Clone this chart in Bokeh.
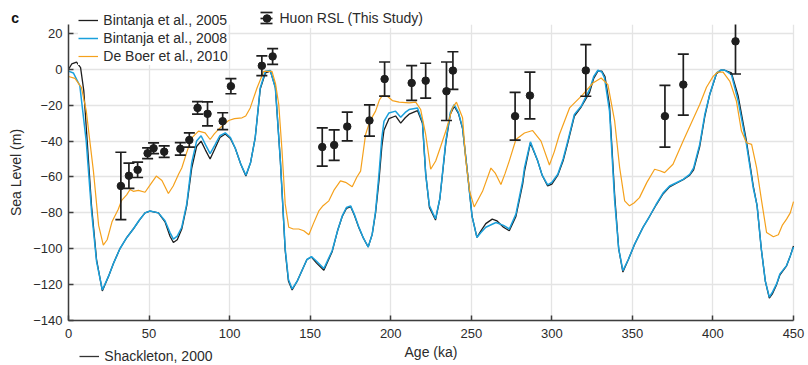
import math
from bokeh.plotting import figure
from bokeh.models import (Range1d, Legend, LegendItem, FixedTicker, ColumnDataSource, Label,
                          BoxAnnotation)
from bokeh.embed import file_html
from bokeh.resources import INLINE

# ---------------- data ----------------
x_ticks = [0, 50, 100, 150, 200, 250, 300, 350, 400, 450]
y_ticks = [-140, -120, -100, -80, -60, -40, -20, 0, 20]

# Bintanja et al., 2005 (black)
b05_age = [0, 2, 5, 7.5, 9.5, 11, 14.3, 17.4, 21, 25, 28, 31.9, 36, 40.2, 44, 47.5, 50.6, 55.8, 59.9, 63,
           65.1, 67.5, 70.3, 73.4, 76.5, 79.5, 82.3, 85, 87.9, 91, 94, 97.3, 100.5, 103.5, 107, 110.1, 113,
           115.9, 119, 122.2, 125.3, 128.4, 131.5, 134.5, 136.5, 138.8, 142, 145, 148, 150.8, 154, 158.5,
           163.7, 167, 169.9, 172.5, 175.1, 177.5, 180.3, 183, 186, 188.5, 190.6, 192.7, 194.5, 195.8,
           198.9, 203, 206.2, 209, 211.4, 216.6, 219.7, 221.7, 224, 227.8, 230.5, 234.2, 237, 239.4, 242,
           244.6, 247.7, 250.5, 253.5, 256, 259, 263, 266, 270, 273.6, 277.7, 281.9, 283, 286.7, 291.2,
           294, 297.4, 300, 303.7, 307, 309.9, 314, 318.2, 323.4, 326, 328.6, 331, 333, 335.8, 339, 341.5,
           344.1, 347.5, 351.4, 356.6, 360, 364.8, 369, 373.1, 377.3, 381.5, 385.6, 388, 391.8, 395, 398,
           402.2, 405, 407.3, 411.5, 415.7, 420.8, 425, 427.4, 430, 432.5, 435, 437, 439.5, 441.6, 445.7,
           448, 450]
b05_sl = [0, 3, 4, 1, -12, -32, -76, -106, -123.5, -115, -108, -100, -94, -89, -84, -80, -79, -80, -85, -93,
          -96.5, -95, -89, -76, -55, -43, -40, -45, -50, -44, -38, -36, -38.5, -44, -53, -59.5, -52,
          -38, -11, -2, -1, -10, -51, -101, -118, -123, -118, -112, -106, -104.6, -108, -112,
          -101.5, -90, -82, -77.5, -76.5, -81.5, -88.5, -94, -99, -92, -80, -62, -43, -34,
          -27.5, -26, -30, -27, -25, -23, -30, -58, -77, -84, -72, -41, -25, -20.5, -24.5,
          -33, -58, -82, -93.7, -90, -86, -83.5, -84.5, -88, -90, -82, -64, -57, -41, -51,
          -59, -65, -64, -59, -51, -41, -26, -21, -13, -5, -1, -1, -4, -20, -70, -100,
          -113, -106, -97.5, -88, -83, -75.5, -69.5, -65.5, -63.5, -61.5, -59, -56, -43, -26, -14,
          -2.5, -0.5, -0.5, -2, -15, -40, -65, -76, -100, -118, -127.5, -125, -120, -114.5, -109.5,
          -104, -98.5]

# Bintanja et al., 2008 (blue)
b08_age = [0, 3, 7, 11, 14.3, 17.4, 21, 25, 28, 31.9, 36, 40.2, 44, 47.5, 50.6, 55.8, 59.9, 63, 65.1, 67.5,
           70.3, 73.4, 76.5, 79.5, 82.3, 85, 87.9, 91, 94, 97.3, 100.5, 103.5, 107, 110.1, 113, 115.9, 119,
           122.2, 125.3, 128.4, 131.5, 134.5, 136.5, 138.8, 142, 145, 148, 150.8, 154, 158.5, 163.7, 167,
           169.9, 172.5, 175.1, 177.5, 180.3, 183, 186, 188.5, 190.6, 192.7, 194.5, 195.8, 198.9, 203,
           206.2, 209, 211.4, 216.6, 219.7, 221.7, 224, 227.8, 230.5, 234.2, 237, 239.4, 242, 244.6, 247.7,
           250.5, 253.5, 256, 259, 265.3, 270, 273.6, 277.7, 281.9, 283, 286.7, 291.2, 294, 297.4, 300,
           303.7, 307, 309.9, 314, 318.2, 323.4, 326, 328.6, 331, 332.7, 335.8, 339, 341.5, 344.1, 347.5,
           351.4, 356.6, 360, 364.8, 369, 373.1, 377.3, 381.5, 385.6, 388, 391.8, 395, 398, 402.2, 405,
           407.3, 411.5, 415.7, 420.8, 425, 427.4, 430, 432.5, 435, 437, 439.5, 441.6, 445.7, 448, 450]
b08_sl = [-1, -2, -9, -40, -79, -107, -123, -115, -108, -100, -94, -89, -84, -80, -79, -80, -84.4, -91, -94.6, -93,
          -88, -75, -52, -40, -37, -42, -47, -42, -37, -35.4, -38, -44, -53, -59, -52, -38, -10.4,
          -1.1, -0.6, -10.4, -51, -100, -117, -122.4, -118, -112, -106, -104.4, -107, -111, -101, -90,
          -81.7, -77, -76.1, -81, -88.1, -94, -99, -92, -79, -58.5, -38, -29, -24.3, -23.3,
          -26.7, -24, -22.4, -21.5, -29, -58.5, -76, -83.3, -72, -40, -24, -19.6, -24, -32.6, -58.5,
          -82, -93.7, -91, -88, -85.4, -87, -89, -80.7, -62.2, -55, -40.4, -51, -59, -64.4, -63,
          -58.5, -50, -40, -25.2, -20.6, -11.3, -4, -0.5, -1.5, -4.8, -23.3, -73.3, -100, -112.2, -106,
          -97.4, -88.1, -83, -75.2, -69, -65, -63.2, -61.3, -58.5, -55, -41.8, -25, -14, -2, -0.3,
          -0.5, -3, -17.8, -41.8, -66, -76, -100, -118, -127, -124, -119.6, -114, -109.4, -104, -99]

# De Boer et al., 2010 (orange)
db_age = [0, 4, 8, 11, 15.5, 18.7, 21.6, 24, 27, 30.9, 33, 36.1, 38.2, 40.2, 43.4, 47.5, 51, 54.5, 58, 62,
          65, 68.3, 70.3, 73.5, 76.5, 80.7, 84.8, 87.9, 90.5, 93.1, 96, 99.4, 103, 107.7, 110, 112.8, 117,
          121.2, 126.3, 128.5, 130.5, 132.5, 134.5, 136.7, 139.5, 142.9, 146, 149.2, 152, 155.4, 158,
          161.6, 165, 168.8, 172, 176.1, 179, 181.3, 184.4, 187, 190.6, 193, 194.8, 197.9, 201, 205.2,
          211.4, 215.5, 218.6, 221.7, 224.8, 227.9, 231, 234.2, 238.3, 240.8, 244.6, 246.5, 249, 251.8,
          257, 262.2, 265, 268.4, 271, 273.6, 277.7, 283, 288.1, 293.3, 298.5, 301.5, 304.7, 311, 319.2,
          325.5, 330.6, 334.8, 339, 342.1, 345.2, 348.2, 351, 354.4, 359, 363.8, 367, 370, 375.2, 381.5,
          386.5, 391.8, 396, 400.1, 403, 406.3, 410.5, 414.6, 417.7, 420.8, 424, 427.1, 430.2, 433.3,
          437.5, 440.6, 443, 445.7, 448, 450]
db_sl = [-4, -5, -10, -23, -57, -87, -98, -95, -85, -78, -73, -70, -67, -68, -67.5, -68.5, -64, -59.5, -62, -69.2,
         -65, -58.5, -55, -46, -38.2, -34.4, -35.4, -39.1, -36, -33.5, -31, -28.5, -27.5, -27, -26, -21.5, -10.4,
         -1.1, -1.1, -8, -19.6, -45, -75, -88, -89, -89, -90, -92.2, -86, -78.9, -76,
         -73.3, -67, -62.2, -63, -65.4, -60, -56.7, -36.3, -29, -23.3, -17, -14.6, -15, -17.4, -18.3,
         -18.7, -18.3, -22.4, -36.3, -55.7, -51.1, -43, -34.4, -21.5, -18.3, -27, -50, -68, -76.7,
         -68, -55, -58, -64.2, -58, -51, -39.1, -35.5, -34.1, -40, -53.3, -46, -36.3, -21.5, -14.1,
         -7.6, -4.8, -8.5, -28.9, -54.8, -73.3, -76.1, -74.5, -71.5, -63, -55.7, -56.5, -57.6, -52.9, -40,
         -30, -19.6, -10, -3.9, -1.5, -1.5, -6.7, -17.8, -34.4, -40.9, -41.8, -54.8, -73.3, -91,
         -93.3, -92.2, -87, -83.5, -80, -73.7]

# Shackleton, 2000: listed in the legend, but its curve cannot be told apart in the picture
sh_age = [float("nan")]
sh_sl = [float("nan")]

# Huon RSL (This Study)
huon_age = [32.5, 37.5, 42.9, 49.1, 52.8, 59.4, 69.4, 75.0, 80.1, 86.3, 95.7, 100.8, 120.0, 126.7, 157.5,
            164.9, 173.0, 186.8, 196.2, 213.0, 221.7, 234.6, 238.6, 277.2, 286.4, 321.1, 370.2, 381.6, 414.0]
huon_rsl = [-65, -59.3, -56, -46.8, -44, -45.9, -44.3, -39.4, -21.5, -24.8, -28.9, -9.4, 2, 7.2, -43.3,
            -42.2, -31.9, -28.5, -5.4, -7.6, -6.3, -12.2, -0.7, -26.1, -14.6, -0.6, -26.1, -8.5, 15.6]
huon_err = [18.8, 7, 4.3, 3, 3, 3.2, 3.5, 4, 3.5, 6.7, 4.7, 4.2, 5.5, 4.4, 10.7,
            8.5, 8, 8.7, 9.5, 9.7, 9.7, 16.3, 10.5, 13.3, 13, 14.4, 17.2, 17, 18.2]

X_LIM = (0, 450)
Y_LIM = (-140, 25)

# ---------------- layout (pixels) ----------------
W, H = 808, 365
PL, PR, PT, PB = 68, 793, 24, 320          # plot-area edges on the canvas
sx = (PR - PL) / (X_LIM[1] - X_LIM[0])
sy = (PB - PT) / (Y_LIM[1] - Y_LIM[0])
x_rng = Range1d(X_LIM[0] - PL / sx, X_LIM[1] + (W - PR) / sx)
y_rng = Range1d(Y_LIM[0] - (H - PB) / sy, Y_LIM[1] + PT / sy)

# ---------------- style ----------------
FONT = "Liberation Sans"
TXT = "#2b2b2b"
AXC = "#3d3d3d"
BLACK = "#1e1e1e"
BLUE = "#1aa0dc"
ORANGE = "#f5a11c"

p = figure(width=W, height=H, output_backend="svg", toolbar_location=None, title=None,
           x_range=x_rng, y_range=y_rng, min_border=0)
p.outline_line_color = None

for ax in (p.xaxis[0], p.yaxis[0]):
    ax.axis_line_color = AXC
    ax.axis_line_width = 1.5
    ax.major_tick_line_color = AXC
    ax.major_tick_line_width = 1.5
    ax.major_tick_in = 5
    ax.major_tick_out = 0
    ax.minor_tick_line_color = None
    ax.major_label_text_font = FONT
    ax.major_label_text_font_size = "13px"
    ax.major_label_text_color = TXT
    ax.axis_label_text_font = FONT
    ax.axis_label_text_font_style = "normal"
    ax.axis_label_text_color = TXT
    ax.axis_label_text_font_size = "14px"

p.xaxis.ticker = FixedTicker(ticks=x_ticks)
p.yaxis.ticker = FixedTicker(ticks=y_ticks)
p.xaxis.bounds = X_LIM
p.yaxis.bounds = Y_LIM
p.xaxis.fixed_location = Y_LIM[0]
p.yaxis.fixed_location = X_LIM[0]
p.xaxis.axis_label = "Age (ka)"
p.yaxis.axis_label = "Sea Level (m)"
p.xaxis.major_label_standoff = 8
p.yaxis.major_label_standoff = 6
p.xaxis.axis_label_standoff = 3
p.yaxis.axis_label_standoff = 6

p.grid.grid_line_color = "#e4e4e4"
p.grid.grid_line_width = 1.3
p.xgrid.bounds = X_LIM
p.ygrid.bounds = Y_LIM
try:
    p.xgrid.cross_bounds = Y_LIM
    p.ygrid.cross_bounds = X_LIM
except Exception:
    for kw in (dict(right=X_LIM[0]), dict(left=X_LIM[1]), dict(bottom=Y_LIM[1]), dict(top=Y_LIM[0])):
        p.add_layout(BoxAnnotation(fill_color="white", fill_alpha=1, line_color=None,
                                   level="underlay", **kw))

r_b05 = p.line(b05_age, b05_sl, line_color=BLACK, line_width=1.3)
r_b08 = p.line(b08_age, b08_sl, line_color=BLUE, line_width=1.5)
r_db = p.line(db_age, db_sl, line_color=ORANGE, line_width=1.2)
r_sh = p.line(sh_age, sh_sl, line_color="#333333", line_width=1.3)

lo = [r - e for r, e in zip(huon_rsl, huon_err)]
hi = [r + e for r, e in zip(huon_rsl, huon_err)]
src = ColumnDataSource(dict(age=huon_age, rsl=huon_rsl, lo=lo, hi=hi))
p.segment(x0="age", y0="lo", x1="age", y1="hi", source=src, line_color=BLACK, line_width=1.7)
cap_lo = p.scatter(x="age", y="lo", marker="dash", size=11, line_color=BLACK, line_width=1.7, source=src)
cap_hi = p.scatter(x="age", y="hi", marker="dash", size=11, line_color=BLACK, line_width=1.7, source=src)
dots = p.scatter(x="age", y="rsl", marker="circle", size=7.5, fill_color=BLACK, line_color=BLACK, source=src)
# zero-size vertical dash: invisible on the plot, gives the legend icon its vertical bar
bar_icon = p.scatter(x="age", y="rsl", marker="dash", angle=math.pi / 2, size=0,
                     line_color=BLACK, line_width=1.7, source=src)

# clip marks above the top of the y axis (plot-area edge)
p.add_layout(BoxAnnotation(bottom=Y_LIM[1], fill_color="white", fill_alpha=1, line_color=None,
                           level="glyph"))


def mk_legend(items, loc, gw, gh, lh, bg=True, standoff=5, pad=0):
    lg = Legend(items=items, location=loc, glyph_width=gw, glyph_height=gh, label_height=lh,
                label_standoff=standoff, spacing=0, padding=pad, margin=0,
                border_line_color=None, label_text_font=FONT, label_text_font_size="14px",
                label_text_color=TXT, background_fill_color="white",
                background_fill_alpha=1.0 if bg else 0.0)
    p.add_layout(lg)
    return lg


# legend positions: (left, bottom) in canvas pixels measured from the bottom-left corner
mk_legend([LegendItem(label="Bintanja et al., 2005", renderers=[r_b05]),
           LegendItem(label="Bintanja et al., 2008", renderers=[r_b08]),
           LegendItem(label="De Boer et al., 2010", renderers=[r_db])],
          (78.3, 300.5), 20, 18, 18, pad=1)
mk_legend([LegendItem(label="Huon RSL (This Study)", renderers=[dots])], (256.5, 337.5), 19, 20, 20,
          standoff=4)
mk_legend([LegendItem(label="", renderers=[bar_icon])], (251, 332.5), 30, 30, 30, bg=False)
mk_legend([LegendItem(label="", renderers=[cap_hi])], (251, 338.3), 30, 30, 30, bg=False)
mk_legend([LegendItem(label="", renderers=[cap_lo])], (251, 326.7), 30, 30, 30, bg=False)
mk_legend([LegendItem(label="Shackleton, 2000", renderers=[r_sh])], (79.3, 0), 20, 18, 18, bg=False)

p.add_layout(Label(x=10.7, y=H - 17.3, x_units="screen", y_units="screen", text="c",
                   text_font=FONT, text_font_style="bold", text_font_size="14px",
                   text_color="#111111", text_baseline="alphabetic"))

open("out.html", "w").write(file_html(p, INLINE))
